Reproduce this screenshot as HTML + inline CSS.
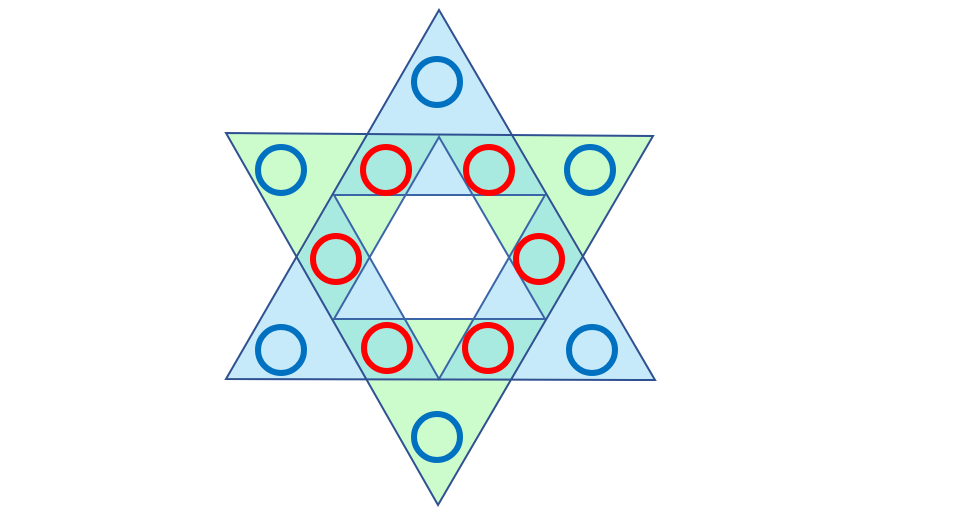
<!DOCTYPE html>
<html><head><meta charset="utf-8"><style>html,body{margin:0;padding:0;background:#fff;width:974px;height:519px;overflow:hidden}</style></head>
<body>
<svg width="974" height="519" viewBox="0 0 974 519">
  <polygon points="439,10 226,379 655,380" fill="#c6eafa" stroke="none"/>
  <polygon points="226,133 653,136 438,505" fill="#ccfbcc" stroke="none"/>
  <polygon points="367,134 512,135 582,258 511,379 367,379 298,258" fill="#a8e9e0" stroke="none"/>
  <polygon points="439,137 334,319 545,319" fill="#c6eafa" stroke="none"/>
  <polygon points="334,195 545,195 439,379" fill="#ccfbcc" stroke="none"/>
  <polygon points="404,195 474,195 509,257 474,319 404,319 369,257" fill="#ffffff" stroke="none"/>
  <polygon points="439,137 334,319 545,319" fill="none" stroke="#3a66a8" stroke-width="2"/>
  <polygon points="334,195 545,195 439,379" fill="none" stroke="#3a66a8" stroke-width="2"/>
  <polygon points="439,10 226,379 655,380" fill="none" stroke="#2f5091" stroke-width="2"/>
  <polygon points="226,133 653,136 438,505" fill="none" stroke="#2f5091" stroke-width="2"/>
  <g fill="none" stroke="#0070c0" stroke-width="6">
    <circle cx="437" cy="82" r="23"/>
    <circle cx="281" cy="170" r="23"/>
    <circle cx="590" cy="170" r="23"/>
    <circle cx="281" cy="350" r="23"/>
    <circle cx="592" cy="350" r="23"/>
    <circle cx="437" cy="437" r="23"/>
  </g>
  <g fill="none" stroke="#ff0000" stroke-width="6">
    <circle cx="386" cy="170" r="23"/>
    <circle cx="489" cy="170" r="23"/>
    <circle cx="336" cy="259" r="23"/>
    <circle cx="539" cy="259" r="23"/>
    <circle cx="387" cy="348" r="23"/>
    <circle cx="488" cy="348" r="23"/>
  </g>
</svg>
</body></html>
